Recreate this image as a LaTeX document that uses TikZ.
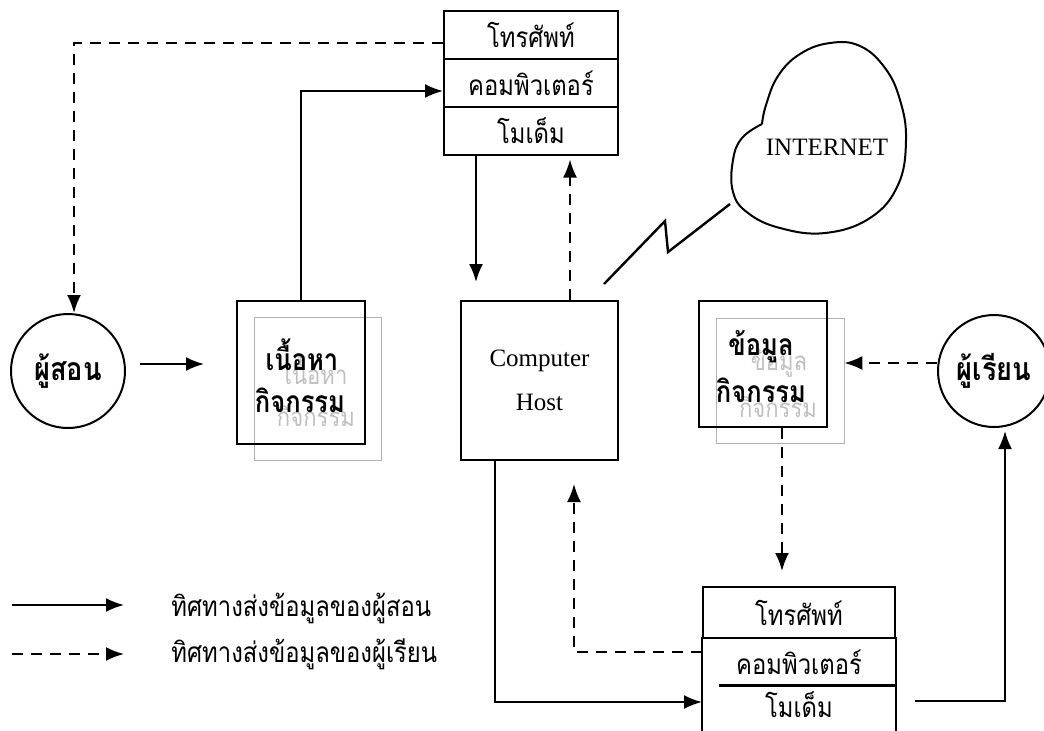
\documentclass[tikz,border=0pt]{standalone}
\usepackage{fontspec}
\setmainfont{Liberation Serif}
\newfontfamily\thaifont[Script=Thai, FakeStretch=0.85]{Loma}
\usetikzlibrary{arrows.meta}

\tikzstyle{row}=[draw, line width=1pt, minimum width=87pt, minimum height=24pt, inner sep=0pt, font=\thaifont\fontsize{14}{16}\selectfont]
\tikzstyle{actor}=[draw, circle, line width=1pt, inner sep=0pt, font=\thaifont\bfseries\fontsize{16}{18}\selectfont]
\tikzstyle{unit}=[draw, line width=1pt, inner sep=0pt]
\tikzstyle{ghost}=[draw=gray!60, line width=0.4pt, inner sep=0pt]
\tikzstyle{txt}=[inner sep=0pt, font=\thaifont\bfseries\fontsize{15}{17}\selectfont]
\tikzstyle{gtxt}=[inner sep=0pt, text=gray!50, font=\thaifont\fontsize{13}{15}\selectfont]
\tikzstyle{key}=[inner sep=0pt, anchor=west, font=\thaifont\fontsize{14}{16}\selectfont]
\tikzstyle{snd}=[line width=1pt, -{Latex[length=9pt, width=7pt]}]
\tikzstyle{rcv}=[line width=1pt, dash pattern=on 5.5pt off 4pt, -{Latex[length=9pt, width=7pt]}]

\begin{document}
\begin{tikzpicture}[x=0.5pt, y=-0.5pt]
      \useasboundingbox (0,0) rectangle (1044,730);

      \node[row] (t1) at (531,35) {โทรศัพท์};
      \node[row] (t2) at (531,83) {คอมพิวเตอร์};
      \node[row] (t3) at (531,130.5) {โมเด็ม};

      \node[actor, minimum size=57pt] (tch) at (68,371) {ผู้สอน};
      \node[actor, minimum size=56pt] (std) at (994,371) {ผู้เรียน};

      \node[ghost, minimum width=63.5pt, minimum height=71.5pt] (lesg) at (317.5,388.5) {};
      \node[unit, minimum width=64pt, minimum height=71.5pt] (les) at (301,372.5) {};
      \node[gtxt] (les1g) at (316,371) {เนื้อหา};
      \node[gtxt] (les2g) at (316,416) {กิจกรรม};
      \node[txt] (les1) at (302,355) {เนื้อหา};
      \node[txt] (les2) at (300,400) {กิจกรรม};

      \node[unit, minimum width=78.5pt, minimum height=79.5pt, align=center, font=\fontsize{12.5}{22}\selectfont] (host) at (539.5,380.5) {Computer\\Host};

      \node[ghost, minimum width=64pt, minimum height=62.5pt] (datg) at (780,380.5) {};
      \node[unit, minimum width=64pt, minimum height=63pt] (dat) at (763,364) {};
      \node[gtxt] (dat1g) at (779,363) {ข้อมูล};
      \node[gtxt] (dat2g) at (778,407) {กิจกรรม};
      \node[txt] (dat1) at (761,347) {ข้อมูล};
      \node[txt] (dat2) at (761,390) {กิจกรรม};

      \node[row, minimum width=96pt, minimum height=25.5pt] (b1) at (799,612.5) {โทรศัพท์};
      \node[row, draw=none, minimum width=96pt] (b2) at (799,662) {คอมพิวเตอร์};
      \node[row, draw=none, minimum width=96pt, minimum height=19pt] (b3) at (799,705) {โมเด็ม};
      \draw[line width=1pt] (b2.north west) -- ([yshift=-6pt]b3.south west) (b2.north east) -- ([yshift=-6pt]b3.south east);
      \draw[line width=1.5pt] ([xshift=8.5pt]b3.north west) -- (b3.north east);

      % internet
      \draw[line width=1pt] plot[smooth, tension=0.7] coordinates {(762,124) (766,105) (778,76) (800,54) (830,43) (860,46) (885,68) (900,100) (906,140) (898,185) (870,218) (825,233) (780,228) (748,213) (733,192) (733,160) (742,138) (762,124)};
      \node[font=\fontsize{12.5}{14}\selectfont] (inet) at (827,147) {INTERNET};
      \coordinate (zap0) at (604,284);
      \coordinate (zap1) at (730,204);
      \draw[line width=1.2pt] (zap0) -- (665,221) -- (668,252) -- (zap1);

      % teacher side
      \draw[rcv] ([yshift=-4pt]t1.west) -| ([xshift=3pt]tch.north);
      \coordinate (go0) at (140,364);
      \coordinate (go1) at (204,364);
      \draw[snd] (go0) -- (go1);
      \draw[snd] (les.north) |- ([yshift=-4pt]t2.west);
      \draw[snd, shorten >=9pt] ([xshift=-27.5pt]t3.south) -- ([xshift=-27.5pt]t3.south |- host.north);
      \draw[rcv, shorten >=2pt] ([xshift=15.25pt]host.north) -- ([xshift=15.25pt]host.north |- t3.south);

      % student side
      \draw[rcv] ([yshift=4pt]std.west) -- ([yshift=4pt]std.west -| datg.east);
      \draw[rcv, shorten >=7.5pt] ([xshift=9.5pt]dat.south) -- ([xshift=9.5pt]dat.south |- b1.north);
      \draw[snd] ([xshift=-22.25pt]host.south) |- ([yshift=1.5pt]b3.west);
      \draw[rcv, shorten >=11.5pt] ([yshift=5pt]b2.west) -| ([xshift=17.25pt]host.south);
      \draw[snd, shorten <=9.5pt, shorten >=1.5pt] ([yshift=2pt]b3.east) -| ([xshift=5.5pt]std.south);

      % legend
      \coordinate (k1a) at (12,605);
      \coordinate (k1b) at (124,605);
      \coordinate (k2a) at (12,654);
      \coordinate (k2b) at (124,654);
      \draw[snd] (k1a) -- (k1b);
      \draw[rcv] (k2a) -- (k2b);
      \node[key] (k1) at (171,608) {ทิศทางส่งข้อมูลของผู้สอน};
      \node[key] (k2) at (171,654) {ทิศทางส่งข้อมูลของผู้เรียน};
    \end{tikzpicture}
\end{document}
